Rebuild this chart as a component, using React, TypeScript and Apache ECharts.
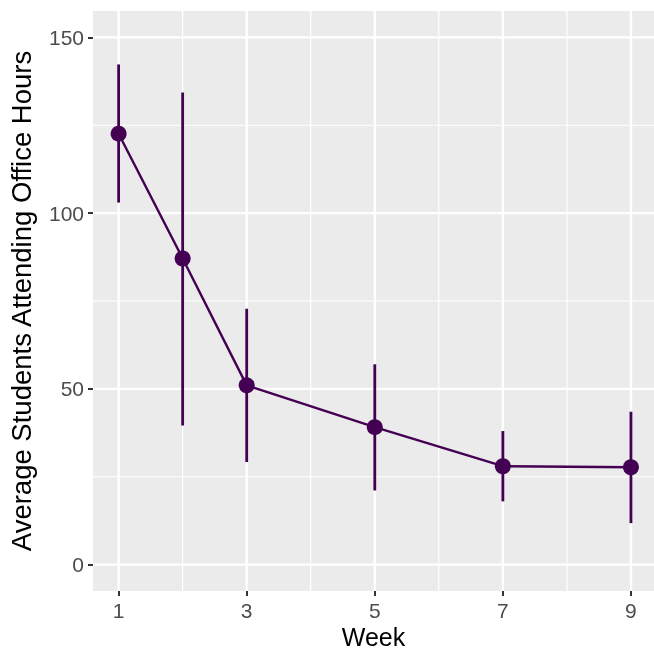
import React, { useEffect, useRef } from "react";
import * as echarts from "echarts";

const weeks = [1, 2, 3, 5, 7, 9];
const means = [122.6, 87.1, 51.0, 39.1, 28.0, 27.7];
const lows = [103.0, 39.6, 29.2, 21.1, 18.0, 11.8];
const highs = [142.3, 134.3, 72.8, 57.0, 38.0, 43.5];

const xTickLabels = [1, 3, 5, 7, 9];
const xMinorGrid = [2, 4, 6, 8];
const yTickLabels = [0, 50, 100, 150];
const yMinorGrid = [25, 75, 125];

const X_MIN = 0.6;
const X_MAX = 9.36;
const Y_MIN = -7.5;
const Y_MAX = 157.5;

const COLOR = "#440154";
const FONT = "'Liberation Sans', Arial, Helvetica, sans-serif";

export default function App() {
  const ref = useRef<HTMLDivElement>(null);
  useEffect(() => {
    if (!ref.current) return;
    const chart = echarts.init(ref.current, null, { renderer: "svg" });

    // gridline specs: [orientation(0=vertical,1=horizontal), value, major(1)/minor(0)]
    const gridData: number[][] = [];
    xMinorGrid.forEach((v) => gridData.push([0, v, 0]));
    yMinorGrid.forEach((v) => gridData.push([1, v, 0]));
    xTickLabels.forEach((v) => gridData.push([0, v, 1]));
    yTickLabels.forEach((v) => gridData.push([1, v, 1]));

    const lineData = weeks.map((w, i) => [w, means[i]]);
    const errData = weeks.map((w, i) => [w, lows[i], highs[i]]);

    chart.setOption({
      animation: false,
      grid: {
        left: 93,
        right: 0,
        top: 11,
        bottom: 60,
        show: true,
        backgroundColor: "#EBEBEB",
        borderWidth: 0,
        containLabel: false,
        outerBoundsMode: "none",
      },
      xAxis: {
        type: "value",
        min: X_MIN,
        max: X_MAX,
        name: "Week",
        nameLocation: "middle",
        nameGap: 33,
        nameMoveOverlap: false,
        nameTextStyle: {
          fontFamily: FONT,
          fontSize: 25,
          lineHeight: 25,
          color: "#000000",
        },
        axisLine: { show: false, onZero: false },
        axisTick: {
          show: true,
          length: 5,
          lineStyle: { color: "#333333", width: 2 },
          customValues: xTickLabels,
        },
        axisLabel: {
          fontFamily: FONT,
          fontSize: 21,
          color: "#4D4D4D",
          margin: 9,
          customValues: xTickLabels,
        },
        splitLine: { show: false },
      },
      yAxis: {
        type: "value",
        min: Y_MIN,
        max: Y_MAX,
        name: "Average Students Attending Office Hours",
        nameLocation: "middle",
        nameGap: 58,
        nameRotate: 90,
        nameMoveOverlap: false,
        nameTextStyle: { fontFamily: FONT, fontSize: 27.5, color: "#000000" },
        axisLine: { show: false, onZero: false },
        axisTick: {
          show: true,
          length: 5,
          lineStyle: { color: "#333333", width: 2 },
          customValues: yTickLabels,
        },
        axisLabel: {
          fontFamily: FONT,
          fontSize: 21,
          color: "#4D4D4D",
          margin: 9,
          customValues: yTickLabels,
        },
        splitLine: { show: false },
      },
      series: [
        {
          type: "custom",
          silent: true,
          z: 0,
          data: gridData,
          renderItem: (params: any, api: any) => {
            const orient = api.value(0);
            const v = api.value(1);
            const major = api.value(2);
            let p1, p2;
            if (orient === 0) {
              p1 = api.coord([v, Y_MIN]);
              p2 = api.coord([v, Y_MAX]);
            } else {
              p1 = api.coord([X_MIN, v]);
              p2 = api.coord([X_MAX, v]);
            }
            return {
              type: "line",
              shape: { x1: p1[0], y1: p1[1], x2: p2[0], y2: p2[1] },
              style: { stroke: "#FFFFFF", lineWidth: major ? 2.4 : 1.2 },
            };
          },
        },
        {
          type: "custom",
          silent: true,
          z: 2,
          data: errData,
          encode: { x: 0, y: [1, 2] },
          renderItem: (params: any, api: any) => {
            const x = api.value(0);
            const p1 = api.coord([x, api.value(1)]);
            const p2 = api.coord([x, api.value(2)]);
            return {
              type: "line",
              shape: { x1: p1[0], y1: p1[1], x2: p2[0], y2: p2[1] },
              style: { stroke: COLOR, lineWidth: 2.8 },
            };
          },
        },
        {
          type: "line",
          z: 3,
          data: lineData,
          symbol: "circle",
          symbolSize: 16,
          showSymbol: true,
          lineStyle: { color: COLOR, width: 2.4 },
          itemStyle: { color: COLOR },
          silent: true,
        },
      ],
    });
    return () => chart.dispose();
  }, []);

  return (
    <div
      ref={ref}
      style={{ position: "fixed", left: 0, top: 0, width: 654, height: 651 }}
    />
  );
}
